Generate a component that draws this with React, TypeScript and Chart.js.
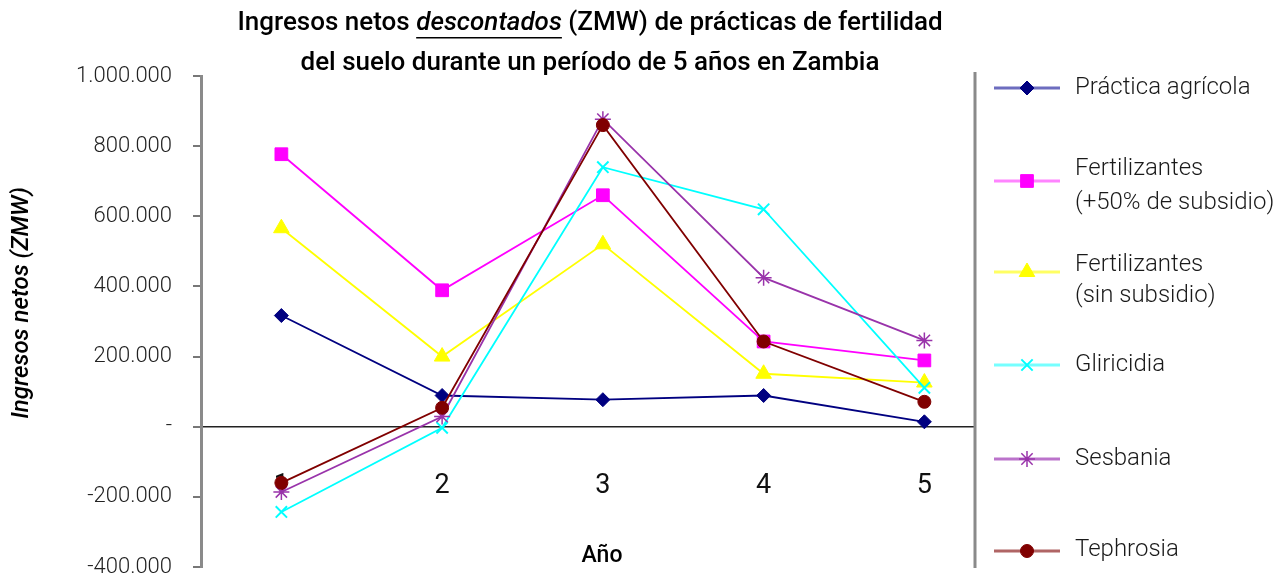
import React, { useEffect, useRef } from 'react';
import { Chart, registerables } from 'chart.js';
import { drawPoint } from 'chart.js/helpers';

Chart.register(...registerables);

// ---- Data ----
const years = [1, 2, 3, 4, 5];
const yTicks = [-400000, -200000, 0, 200000, 400000, 600000, 800000, 1000000];

const practicaAgricola = [317000, 89000, 77000, 89000, 14000];
const fertilizantes50 = [777000, 389000, 660000, 243000, 189000];
const fertilizantesSin = [566000, 200000, 520000, 151000, 126000];
const gliricidia = [-243000, -3000, 740000, 620000, 111000];
const sesbania = [-186000, 29000, 877000, 425000, 246000];
const tephrosia = [-160000, 54000, 860000, 243000, 71000];

const seriesLabels: string[][] = [
  ['Práctica agrícola'],
  ['Fertilizantes', '(+50% de subsidio)'],
  ['Fertilizantes', '(sin subsidio)'],
  ['Gliricidia'],
  ['Sesbania'],
  ['Tephrosia'],
];

const titleLine1 = [
  { text: 'Ingresos netos ', italic: false, underline: false },
  { text: 'descontados', italic: true, underline: true },
  { text: ' (ZMW) de prácticas de fertilidad', italic: false, underline: false },
];
const titleLine2 = 'del suelo durante un período de 5 años en Zambia';
const yTitle = 'Ingresos netos (ZMW)';
const xTitle = 'Año';

// ---- Styles ----
const FONT = 'Roboto';
const seriesStyles = [
  { color: '#000080', legendLine: 'rgba(60,60,170,0.75)', pointStyle: 'rectRot', radius: 7, pbw: 1 },
  { color: '#FF00FF', legendLine: 'rgba(255,80,255,0.7)', pointStyle: 'rect', radius: 9, pbw: 1 },
  { color: '#FFFF00', legendLine: 'rgba(255,255,60,0.8)', pointStyle: 'triangle', radius: 9, pbw: 1 },
  { color: '#00FFFF', legendLine: 'rgba(60,255,255,0.7)', pointStyle: 'crossRot', radius: 8, pbw: 2 },
  { color: '#9933AA', legendLine: 'rgba(170,80,190,0.8)', pointStyle: 'star', radius: 8, pbw: 1.5 },
  { color: '#800000', legendLine: 'rgba(150,50,50,0.75)', pointStyle: 'circle', radius: 6.5, pbw: 1 },
];
const seriesValues = [practicaAgricola, fertilizantes50, fertilizantesSin, gliricidia, sesbania, tephrosia];

const legendMarkerY = [88, 181, 272, 365, 459, 551];
const legendTextY = [[88], [169, 203], [265, 296], [365], [459], [550]];

function formatThousands(v: number): string {
  if (v === 0) return '-';
  const neg = v < 0;
  const s = Math.abs(Math.round(v)).toString().replace(/\B(?=(\d{3})+(?!\d))/g, '.');
  return (neg ? '-' : '') + s;
}

const decorPlugin = {
  id: 'decor',
  afterDraw(chart: any) {
    const ctx: CanvasRenderingContext2D = chart.ctx;
    ctx.save();

    // Y-axis tick marks (short, outside)
    const yScale = chart.scales.y;
    ctx.strokeStyle = '#777';
    ctx.lineWidth = 2;
    yTicks.forEach((v) => {
      const py = Math.round(yScale.getPixelForValue(v));
      ctx.beginPath();
      ctx.moveTo(193, py);
      ctx.lineTo(200, py);
      ctx.stroke();
    });

    ctx.fillStyle = '#000';
    ctx.textBaseline = 'middle';

    // Title line 1 (mixed styles)
    const size = 26;
    const fontFor = (italic: boolean) => `${italic ? 'italic ' : ''}500 ${size}px ${FONT}`;
    let total = 0;
    const widths = titleLine1.map((seg) => {
      ctx.font = fontFor(seg.italic);
      const w = ctx.measureText(seg.text).width;
      total += w;
      return w;
    });
    let x = 590 - total / 2;
    const y1 = 23;
    ctx.textAlign = 'left';
    titleLine1.forEach((seg, i) => {
      ctx.font = fontFor(seg.italic);
      ctx.fillText(seg.text, x, y1);
      if (seg.underline) {
        ctx.fillRect(x, y1 + 14, widths[i], 1.5);
      }
      x += widths[i];
    });
    ctx.textAlign = 'center';
    ctx.font = fontFor(false);
    ctx.fillText(titleLine2, 590, 63);

    // Axis titles
    ctx.font = `500 23px ${FONT}`;
    ctx.fillText(xTitle, 602, 556);
    ctx.save();
    ctx.translate(22, 303);
    ctx.rotate(-Math.PI / 2);
    ctx.font = `italic 500 24px ${FONT}`;
    ctx.fillText(yTitle, 0, 0);
    ctx.restore();

    // Legend separator
    ctx.strokeStyle = '#8a8a8a';
    ctx.lineWidth = 3;
    ctx.beginPath();
    ctx.moveTo(975, 72);
    ctx.lineTo(975, 568);
    ctx.stroke();

    // Legend items
    seriesStyles.forEach((st, i) => {
      const my = legendMarkerY[i];
      ctx.strokeStyle = st.legendLine;
      ctx.lineWidth = 3;
      ctx.beginPath();
      ctx.moveTo(994, my);
      ctx.lineTo(1060, my);
      ctx.stroke();
      ctx.fillStyle = st.color;
      ctx.strokeStyle = st.color;
      ctx.lineWidth = st.pbw;
      drawPoint(ctx, { pointStyle: st.pointStyle as any, radius: st.radius, rotation: 0, borderWidth: st.pbw }, 1027, my);
      ctx.fillStyle = '#1a1a1a';
      ctx.textAlign = 'left';
      ctx.font = `300 24px ${FONT}`;
      seriesLabels[i].forEach((line, k) => {
        ctx.fillText(line, 1075, legendTextY[i][k]);
      });
    });
    ctx.restore();
  },
};

export default function App() {
  const canvasRef = useRef<HTMLCanvasElement | null>(null);

  useEffect(() => {
    if (!canvasRef.current) return;
    const datasets = seriesValues.map((vals, i) => {
      const st = seriesStyles[i];
      return {
        label: seriesLabels[i].join(' '),
        data: years.map((yr, k) => ({ x: yr, y: vals[k] })),
        borderColor: st.color,
        backgroundColor: st.color,
        borderWidth: 1.8,
        pointStyle: st.pointStyle,
        pointRadius: st.radius,
        pointBorderWidth: st.pbw,
        pointBackgroundColor: st.color,
        pointBorderColor: st.color,
        tension: 0,
        order: seriesValues.length - i,
      };
    });

    const chart = new Chart(canvasRef.current, {
      type: 'line',
      data: { datasets } as any,
      options: {
        animation: false,
        responsive: true,
        maintainAspectRatio: false,
        layout: { padding: { top: 76, bottom: 10, left: 0, right: 300 } },
        plugins: {
          legend: { display: false },
          title: { display: false },
          tooltip: { enabled: false },
        },
        scales: {
          x: {
            type: 'linear',
            position: { y: 0 } as any,
            min: 0.5,
            max: 5.315,
            afterBuildTicks: (scale: any) => {
              scale.ticks = years.map((v) => ({ value: v }));
            },
            afterFit: (scale: any) => {
              scale.height = 0;
            },
            grid: { display: false },
            border: { display: true, color: '#222', width: 1.5 },
            ticks: {
              padding: 35,
              font: { family: FONT, size: 27, weight: '400' as any },
              color: '#111',
              callback: (v: any) => String(v),
            },
          },
          y: {
            type: 'linear',
            min: -400000,
            max: 1000000,
            afterBuildTicks: (scale: any) => {
              scale.ticks = yTicks.map((v) => ({ value: v }));
            },
            afterFit: (scale: any) => {
              scale.width = 201;
            },
            grid: {
              drawOnChartArea: false,
              drawTicks: true,
              tickLength: 29,
              tickColor: 'rgba(0,0,0,0)',
              color: 'rgba(0,0,0,0)',
            },
            border: { display: true, color: '#8a8a8a', width: 3 },
            ticks: {
              padding: 0,
              font: { family: FONT, size: 22, weight: '300' as any, lineHeight: 0.9 },
              color: '#222',
              callback: (v: any) => formatThousands(Number(v)),
            },
          },
        },
      },
      plugins: [decorPlugin],
    } as any);

    return () => chart.destroy();
  }, []);

  return (
    <div style={{ position: 'fixed', left: 0, top: 0, width: 1275, height: 577, background: '#fff' }}>
      <canvas ref={canvasRef} />
    </div>
  );
}
